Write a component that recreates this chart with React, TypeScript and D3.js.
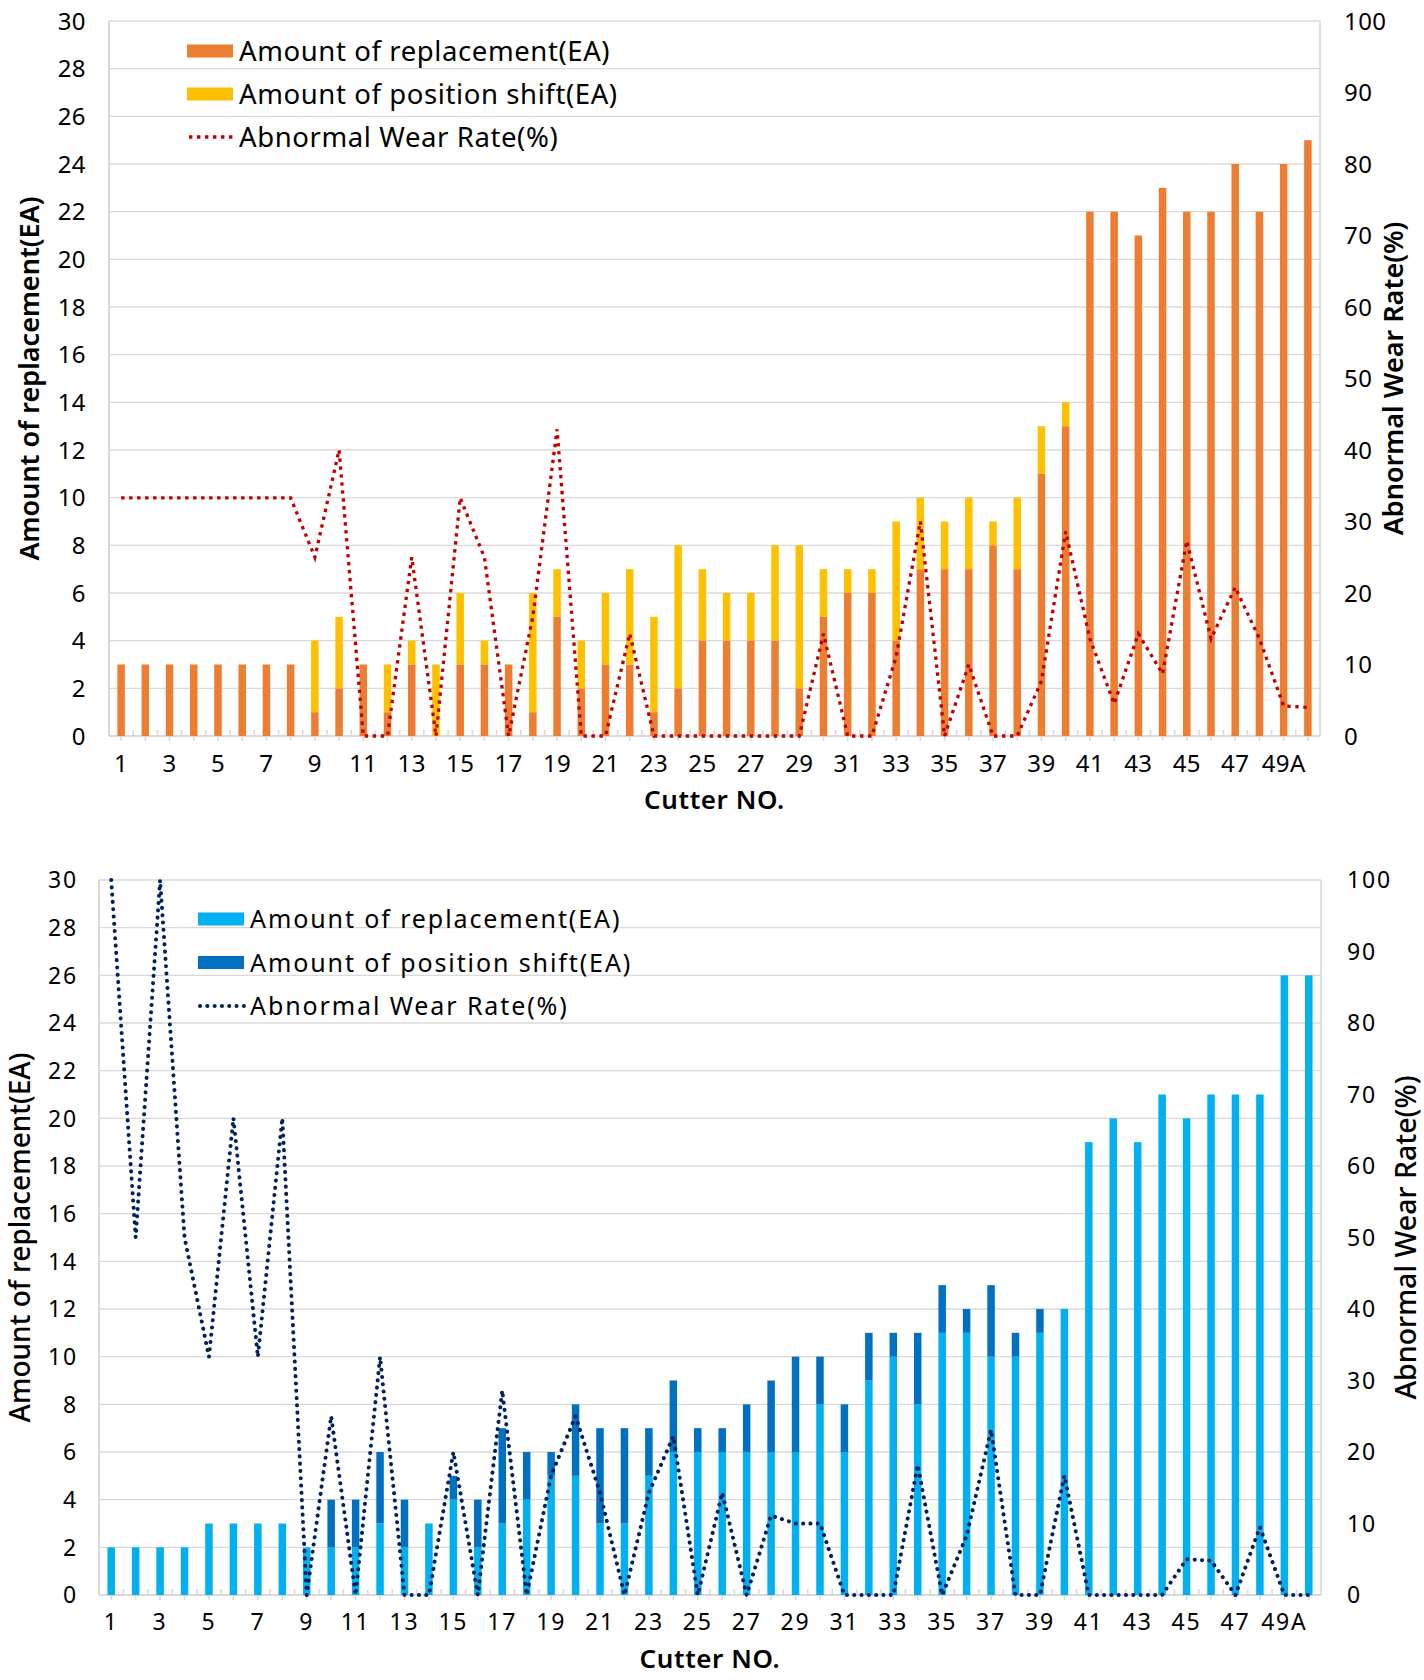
import React, { useEffect, useRef } from 'react'
import * as d3 from 'd3'

// cutter numbers on the x axis (every other one is labelled)
const cutterNos = [
  '1', '2', '3', '4', '5', '6', '7', '8', '9', '10',
  '11', '12', '13', '14', '15', '16', '17', '18', '19', '20',
  '21', '22', '23', '24', '25', '26', '27', '28', '29', '30',
  '31', '32', '33', '34', '35', '36', '37', '38', '39', '40',
  '41', '42', '43', '44', '45', '46', '47', '48', '49A', '49B'
]

// upper chart
const topReplacement = [
  3, 3, 3, 3, 3, 3, 3, 3, 1, 2,
  3, 1, 3, 0, 3, 3, 3, 1, 5, 2,
  3, 3, 1, 2, 4, 4, 4, 4, 2, 5,
  6, 6, 4, 7, 7, 7, 8, 7, 11, 13,
  22, 22, 21, 23, 22, 22, 24, 22, 24, 25
]
const topShift = [
  0, 0, 0, 0, 0, 0, 0, 0, 3, 3,
  0, 2, 1, 3, 3, 1, 0, 5, 2, 2,
  3, 4, 4, 6, 3, 2, 2, 4, 6, 2,
  1, 1, 5, 3, 2, 3, 1, 3, 2, 1,
  0, 0, 0, 0, 0, 0, 0, 0, 0, 0
]
const topWearRate = [
  33.3, 33.3, 33.3, 33.3, 33.3, 33.3, 33.3, 33.3, 25, 40,
  0, 0, 25, 0, 33.3, 25, 0, 16.7, 42.9, 0,
  0, 14.3, 0, 0, 0, 0, 0, 0, 0, 14.3,
  0, 0, 11.1, 30, 0, 10, 0, 0, 7.7, 28.6,
  13.6, 4.5, 14.3, 8.7, 27.3, 13.6, 20.8, 13.6, 4.2, 4
]

// lower chart
const bottomReplacement = [
  2, 2, 2, 2, 3, 3, 3, 3, 2, 2,
  2, 3, 2, 3, 4, 2, 3, 4, 5, 5,
  3, 3, 5, 6, 6, 6, 6, 6, 6, 8,
  6, 9, 10, 8, 11, 11, 10, 10, 11, 12,
  19, 20, 19, 21, 20, 21, 21, 21, 26, 26
]
const bottomShift = [
  0, 0, 0, 0, 0, 0, 0, 0, 0, 2,
  2, 3, 2, 0, 1, 2, 4, 2, 1, 3,
  4, 4, 2, 3, 1, 1, 2, 3, 4, 2,
  2, 2, 1, 3, 2, 1, 3, 1, 1, 0,
  0, 0, 0, 0, 0, 0, 0, 0, 0, 0
]
const bottomWearRate = [
  100, 50, 100, 50, 33.3, 66.7, 33.3, 66.7, 0, 25,
  0, 33.3, 0, 0, 20, 0, 28.6, 0, 16.7, 25,
  14.3, 0, 14.3, 22.2, 0, 14.3, 0, 11.1, 10, 10,
  0, 0, 0, 18.2, 0, 8.3, 23.1, 0, 0, 16.7,
  0, 0, 0, 0, 5, 4.8, 0, 9.5, 0, 0
]

const leftTicks = [0, 2, 4, 6, 8, 10, 12, 14, 16, 18, 20, 22, 24, 26, 28, 30]
const rightTicks = [0, 10, 20, 30, 40, 50, 60, 70, 80, 90, 100]

const legendLabels = ['Amount of replacement(EA)', 'Amount of position shift(EA)', 'Abnormal Wear Rate(%)']

interface ChartSpec {
  replacement: number[]
  shift: number[]
  rate: number[]
  colors: [string, string, string]
  box: { left: number; right: number; top: number; bottom: number }
  barWidth: number
  tickFont: string
  tickSize: number
  tickSpacing: number
  legendFont: string
  legendSize: number
  legendSpacing: number
  legend: { x: number; y: number; rowGap: number }
  titleFont: string
  yTitle: { x: number; size: number; weight: number }
  y2Title: { x: number; size: number; weight: number }
  xLabelY: number
  xTitleY: number
  rightLabelX: number
  leftLabelX: number
  dotted: { width: number; dash: string; cap: string }
}

const GRID = '#d9d9d9'

function drawChart(g: d3.Selection<SVGGElement, unknown, null, undefined>, s: ChartSpec) {
  const { left, right, top, bottom } = s.box
  const x = d3.scaleBand<string>().domain(cutterNos).range([left, right])
  const y = d3.scaleLinear().domain([0, 30]).range([bottom, top])
  const y2 = d3.scaleLinear().domain([0, 100]).range([bottom, top])
  const cx = (c: string) => (x(c) as number) + x.bandwidth() / 2

  // gridlines
  g.append('g')
    .selectAll('line')
    .data(leftTicks.slice(1))
    .enter()
    .append('line')
    .attr('x1', left)
    .attr('x2', right)
    .attr('y1', d => y(d))
    .attr('y2', d => y(d))
    .attr('stroke', GRID)
    .attr('stroke-width', 1.4)

  // frame: left and right edges, base line
  g.append('line').attr('x1', left).attr('x2', left).attr('y1', top).attr('y2', bottom)
    .attr('stroke', GRID).attr('stroke-width', 2)
  g.append('line').attr('x1', right).attr('x2', right).attr('y1', top).attr('y2', bottom)
    .attr('stroke', GRID).attr('stroke-width', 1.6)
  g.append('line').attr('x1', left).attr('x2', right).attr('y1', bottom).attr('y2', bottom)
    .attr('stroke', GRID).attr('stroke-width', 2)

  // small ticks: inside at band edges, outside at band centres
  g.append('g')
    .selectAll('line')
    .data(cutterNos.slice(1))
    .enter()
    .append('line')
    .attr('x1', d => x(d) as number)
    .attr('x2', d => x(d) as number)
    .attr('y1', bottom - 6)
    .attr('y2', bottom)
    .attr('stroke', GRID)
    .attr('stroke-width', 1.6)
  g.append('g')
    .selectAll('line')
    .data(cutterNos)
    .enter()
    .append('line')
    .attr('x1', d => cx(d))
    .attr('x2', d => cx(d))
    .attr('y1', bottom)
    .attr('y2', bottom + 5)
    .attr('stroke', GRID)
    .attr('stroke-width', 1.6)

  // stacked bars
  const rows = cutterNos.map((c, i) => ({ c, a: s.replacement[i], b: s.shift[i] }))
  g.append('g')
    .selectAll('rect')
    .data(rows)
    .enter()
    .append('rect')
    .attr('x', d => cx(d.c) - s.barWidth / 2)
    .attr('width', s.barWidth)
    .attr('y', d => y(d.a))
    .attr('height', d => y(0) - y(d.a))
    .attr('fill', s.colors[0])
  g.append('g')
    .selectAll('rect')
    .data(rows.filter(d => d.b > 0))
    .enter()
    .append('rect')
    .attr('x', d => cx(d.c) - s.barWidth / 2)
    .attr('width', s.barWidth)
    .attr('y', d => y(d.a + d.b))
    .attr('height', d => y(d.a) - y(d.a + d.b))
    .attr('fill', s.colors[1])

  // wear rate line on the right axis
  const line = d3.line<number>()
    .x((_, i) => cx(cutterNos[i]))
    .y(d => y2(d))
  g.append('path')
    .attr('d', line(s.rate))
    .attr('fill', 'none')
    .attr('stroke', s.colors[2])
    .attr('stroke-width', s.dotted.width)
    .attr('stroke-dasharray', s.dotted.dash)
    .attr('stroke-linecap', s.dotted.cap)

  // axis labels
  const tickText = (sel: d3.Selection<SVGTextElement, any, any, any>) =>
    sel.attr('font-family', s.tickFont)
      .attr('font-size', s.tickSize)
      .attr('letter-spacing', s.tickSpacing)
      .attr('fill', '#000')

  g.append('g')
    .selectAll('text')
    .data(leftTicks)
    .enter()
    .append('text')
    .attr('x', s.leftLabelX)
    .attr('y', d => y(d))
    .attr('dy', '0.36em')
    .attr('text-anchor', 'end')
    .text(d => d)
    .call(tickText)

  g.append('g')
    .selectAll('text')
    .data(rightTicks)
    .enter()
    .append('text')
    .attr('x', s.rightLabelX)
    .attr('y', d => y2(d))
    .attr('dy', '0.36em')
    .attr('text-anchor', 'start')
    .text(d => d)
    .call(tickText)

  g.append('g')
    .selectAll('text')
    .data(cutterNos.filter((_, i) => i % 2 === 0))
    .enter()
    .append('text')
    .attr('x', d => cx(d))
    .attr('y', s.xLabelY)
    .attr('dy', '0.36em')
    .attr('text-anchor', 'middle')
    .text(d => d)
    .call(tickText)

  // axis titles
  g.append('text')
    .attr('x', (left + right) / 2)
    .attr('y', s.xTitleY)
    .attr('dy', '0.36em')
    .attr('text-anchor', 'middle')
    .attr('font-family', s.titleFont)
    .attr('font-size', 26)
    .attr('font-weight', 600)
    .attr('letter-spacing', 0.6)
    .text('Cutter NO.')

  g.append('text')
    .attr('transform', `translate(${s.yTitle.x},${(top + bottom) / 2}) rotate(-90)`)
    .attr('dy', '0.36em')
    .attr('text-anchor', 'middle')
    .attr('font-family', s.titleFont)
    .attr('font-size', s.yTitle.size)
    .attr('font-weight', s.yTitle.weight)
    .text('Amount of replacement(EA)')

  g.append('text')
    .attr('transform', `translate(${s.y2Title.x},${(top + bottom) / 2}) rotate(-90)`)
    .attr('dy', '0.36em')
    .attr('text-anchor', 'middle')
    .attr('font-family', s.titleFont)
    .attr('font-size', s.y2Title.size)
    .attr('font-weight', s.y2Title.weight)
    .text('Abnormal Wear Rate(%)')

  // legend
  const lg = g.append('g')
  legendLabels.forEach((label, i) => {
    const cy = s.legend.y + i * s.legend.rowGap
    if (i < 2) {
      lg.append('rect')
        .attr('x', s.legend.x)
        .attr('y', cy - 6.5)
        .attr('width', 46)
        .attr('height', 13)
        .attr('fill', s.colors[i])
    } else {
      lg.append('line')
        .attr('x1', s.legend.x + 2)
        .attr('x2', s.legend.x + 46)
        .attr('y1', cy)
        .attr('y2', cy)
        .attr('stroke', s.colors[2])
        .attr('stroke-width', s.dotted.width)
        .attr('stroke-dasharray', s.dotted.dash)
        .attr('stroke-linecap', s.dotted.cap)
    }
    lg.append('text')
      .attr('x', s.legend.x + 52)
      .attr('y', cy)
      .attr('dy', '0.36em')
      .attr('font-family', s.legendFont)
      .attr('font-size', s.legendSize)
      .attr('letter-spacing', s.legendSpacing)
      .text(label)
  })
}

const topSpec: ChartSpec = {
  replacement: topReplacement,
  shift: topShift,
  rate: topWearRate,
  colors: ['#ED7D31', '#FFC000', '#C00000'],
  box: { left: 109, right: 1320, top: 21, bottom: 736 },
  barWidth: 7.5,
  tickFont: 'Noto Sans, sans-serif',
  tickSize: 24,
  tickSpacing: 0.4,
  legendFont: 'Noto Sans, sans-serif',
  legendSize: 27.5,
  legendSpacing: 0.6,
  legend: { x: 187, y: 51, rowGap: 43 },
  titleFont: 'Noto Sans, sans-serif',
  yTitle: { x: 29, size: 27, weight: 600 },
  y2Title: { x: 1393, size: 27, weight: 600 },
  xLabelY: 763,
  xTitleY: 800,
  rightLabelX: 1344,
  leftLabelX: 86,
  dotted: { width: 3.3, dash: '3.4 4.6', cap: 'butt' }
}

const bottomSpec: ChartSpec = {
  replacement: bottomReplacement,
  shift: bottomShift,
  rate: bottomWearRate,
  colors: ['#00B0F0', '#0070C0', '#002060'],
  box: { left: 99, right: 1321, top: 880, bottom: 1595 },
  barWidth: 7.5,
  tickFont: 'Noto Sans, sans-serif',
  tickSize: 23,
  tickSpacing: 1.8,
  legendFont: 'Noto Sans, sans-serif',
  legendSize: 25,
  legendSpacing: 1.9,
  legend: { x: 198, y: 919, rowGap: 43.5 },
  titleFont: 'Noto Sans, sans-serif',
  yTitle: { x: 20, size: 28, weight: 500 },
  y2Title: { x: 1406, size: 28.5, weight: 500 },
  xLabelY: 1622,
  xTitleY: 1659,
  rightLabelX: 1347,
  leftLabelX: 78,
  dotted: { width: 4, dash: '0.1 7.2', cap: 'round' }
}

const App: React.FC = () => {
  const svgRef = useRef<SVGSVGElement>(null)

  useEffect(() => {
    if (!svgRef.current) return
    const svg = d3.select(svgRef.current)
    svg.selectAll('*').remove()
    svg.append('rect').attr('width', 1424).attr('height', 1680).attr('fill', '#fff')
    drawChart(svg.append('g'), topSpec)
    drawChart(svg.append('g'), bottomSpec)
  }, [])

  return (
    <svg
      ref={svgRef}
      width={1424}
      height={1680}
      style={{ position: 'absolute', left: 0, top: 0, display: 'block' }}
    />
  )
}

export default App
